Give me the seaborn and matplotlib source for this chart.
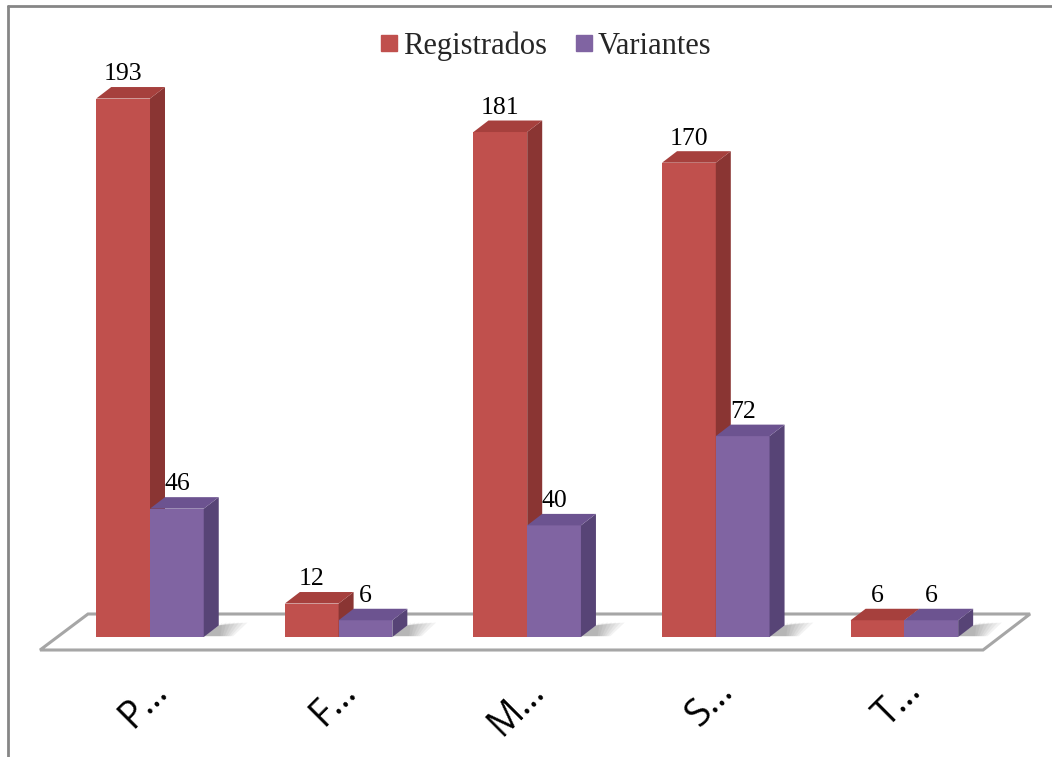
import matplotlib
matplotlib.use("Agg")
import matplotlib.pyplot as plt
import seaborn as sns
import pandas as pd
import numpy as np
from matplotlib.patches import Polygon
from matplotlib.lines import Line2D

# ---- data ----
categories = ["P…", "F…", "M…", "S…", "T…"]
series_names = ["Registrados", "Variantes"]
registrados = [193, 12, 181, 170, 6]
variantes = [46, 6, 40, 72, 6]

front_colors = ["#C0504D", "#8064A2"]
top_colors = ["#A6403D", "#6C5390"]
side_colors = ["#8A3533", "#574476"]

df = pd.DataFrame({
    "cat": categories * 2,
    "value": registrados + variantes,
    "series": [series_names[0]] * len(categories) + [series_names[1]] * len(categories),
})

sns.set_theme(style="white")
W, H = 1052, 757
fig = plt.figure(figsize=(W / 100, H / 100), dpi=100)
ax = fig.add_axes([0, 0, 1, 1])

sns.barplot(data=df, x="cat", y="value", hue="series", order=categories,
            hue_order=series_names, palette=front_colors, width=0.57,
            dodge=True, gap=0, legend=False, ax=ax, saturation=1,
            edgecolor="none", linewidth=0, err_kws={"linewidth": 0})

# pixel mapping
ppx = 188.6   # pixels per category unit
ppy = 2.79    # pixels per value unit
x0px, base_px = 150.0, 637.0
ax.set_xlim(-x0px / ppx, (W - x0px) / ppx)
ax.set_ylim(-(H - base_px) / ppy, base_px / ppy)
ax.axis("off")

ddx = 15 / ppx
ddy = 11.5 / ppy

# floor
n = len(categories)
fl_front_y = -13 / ppy
fl_back_y = 23 / ppy
fl_left = -0.5 - 0.083
fl_right = fl_left + n
fl_shift = 47 / ppx
floor = Polygon([(fl_left, fl_front_y), (fl_right, fl_front_y),
                 (fl_right + fl_shift, fl_back_y), (fl_left + fl_shift * 1.02, fl_back_y)],
                closed=True, facecolor="white", edgecolor="#A6A6A6", linewidth=2.2,
                zorder=0.5)
ax.add_patch(floor)

# 3D faces
for si, cont in enumerate(ax.containers):
    z = 2 + si
    for rect in cont.patches:
        x = rect.get_x()
        w = rect.get_width()
        h = rect.get_height()
        rect.set_zorder(z)
        # soft shadow on floor
        for k in range(7):
            ext = (3 + k * 3.5) / ppx
            sh = Polygon([(x + w, 0.3), (x + w + ddx + ext * 0.6, 0.3),
                          (x + w + ddx + ext * 1.2, ddy + 3 / ppy),
                          (x + w + ddx, ddy)],
                         closed=True, facecolor="#505050", alpha=0.07,
                         edgecolor="none", zorder=1)
            ax.add_patch(sh)
        side = Polygon([(x + w, 0), (x + w + ddx, ddy), (x + w + ddx, h + ddy), (x + w, h)],
                       closed=True, facecolor=side_colors[si], edgecolor="none", zorder=z)
        top = Polygon([(x, h), (x + ddx, h + ddy), (x + w + ddx, h + ddy), (x + w, h)],
                      closed=True, facecolor=top_colors[si], edgecolor="none", zorder=z)
        ax.add_patch(side)
        ax.add_patch(top)
        ax.text(x + w / 2, h + ddy + 2.4, f"{int(round(h))}", ha="center", va="baseline",
                fontsize=18.5, family="Liberation Serif", color="black", zorder=10)

# category labels
for i, lab in enumerate(categories):
    ax.text(i + 0.1, -20.0, lab, rotation=45, ha="right", va="baseline",
            rotation_mode="anchor", fontsize=27, family="Open Sans", color="black")

# legend
handles = [Line2D([0], [0], marker="s", linestyle="none", markersize=11,
                  markerfacecolor=c, markeredgecolor=c) for c in front_colors]
fig.legend(handles, series_names, loc="center", bbox_to_anchor=(544 / W, 1 - 46 / H),
           ncol=2, frameon=False, handletextpad=0.05, columnspacing=0.8,
           handlelength=0.8, prop={"family": "Liberation Serif", "size": 22})

# chart border (top and left visible)
fig.add_artist(Line2D([8 / W, 1], [1 - 6 / H, 1 - 6 / H], color="#868686", linewidth=2,
                      transform=fig.transFigure))
fig.add_artist(Line2D([8 / W, 8 / W], [0, 1 - 6 / H], color="#868686", linewidth=2,
                      transform=fig.transFigure))

fig.savefig("out.png", dpi=100)
